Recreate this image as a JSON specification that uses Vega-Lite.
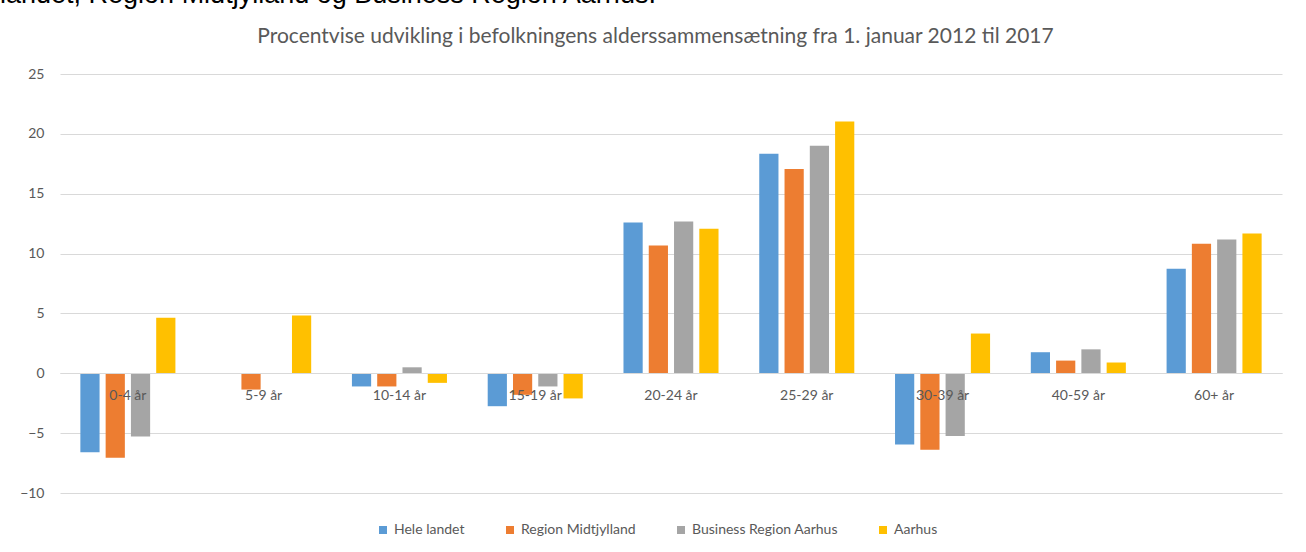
{
  "$schema": "https://vega.github.io/schema/vega-lite/v6.json",
  "autosize": {"type": "none"},
  "padding": {"left": 60, "top": 74, "right": 24, "bottom": 59},
  "width": 1222,
  "height": 419,
  "background": "white",
  "title": {
    "text": "landet, Region Midtjylland og Business Region Aarhus.",
    "font": "Liberation Sans",
    "fontSize": 27,
    "fontWeight": "normal",
    "color": "#000000",
    "anchor": "start",
    "frame": "group",
    "baseline": "alphabetic",
    "offset": 0,
    "dx": -60,
    "dy": 5
  },
  "data": {
    "values": [
      {"age": "0-4 år", "region": "Hele landet", "value": -6.6},
      {"age": "0-4 år", "region": "Region Midtjylland", "value": -7.05},
      {"age": "0-4 år", "region": "Business Region Aarhus", "value": -5.27},
      {"age": "0-4 år", "region": "Aarhus", "value": 4.63},
      {"age": "5-9 år", "region": "Hele landet", "value": 0},
      {"age": "5-9 år", "region": "Region Midtjylland", "value": -1.36},
      {"age": "5-9 år", "region": "Business Region Aarhus", "value": 0},
      {"age": "5-9 år", "region": "Aarhus", "value": 4.82},
      {"age": "10-14 år", "region": "Hele landet", "value": -1.1},
      {"age": "10-14 år", "region": "Region Midtjylland", "value": -1.1},
      {"age": "10-14 år", "region": "Business Region Aarhus", "value": 0.5},
      {"age": "10-14 år", "region": "Aarhus", "value": -0.8},
      {"age": "15-19 år", "region": "Hele landet", "value": -2.75},
      {"age": "15-19 år", "region": "Region Midtjylland", "value": -1.8},
      {"age": "15-19 år", "region": "Business Region Aarhus", "value": -1.1},
      {"age": "15-19 år", "region": "Aarhus", "value": -2.1},
      {"age": "20-24 år", "region": "Hele landet", "value": 12.6},
      {"age": "20-24 år", "region": "Region Midtjylland", "value": 10.68},
      {"age": "20-24 år", "region": "Business Region Aarhus", "value": 12.68},
      {"age": "20-24 år", "region": "Aarhus", "value": 12.07},
      {"age": "25-29 år", "region": "Hele landet", "value": 18.34},
      {"age": "25-29 år", "region": "Region Midtjylland", "value": 17.06},
      {"age": "25-29 år", "region": "Business Region Aarhus", "value": 19.0},
      {"age": "25-29 år", "region": "Aarhus", "value": 21.04},
      {"age": "30-39 år", "region": "Hele landet", "value": -5.94},
      {"age": "30-39 år", "region": "Region Midtjylland", "value": -6.38},
      {"age": "30-39 år", "region": "Business Region Aarhus", "value": -5.24},
      {"age": "30-39 år", "region": "Aarhus", "value": 3.32},
      {"age": "40-59 år", "region": "Hele landet", "value": 1.76},
      {"age": "40-59 år", "region": "Region Midtjylland", "value": 1.06},
      {"age": "40-59 år", "region": "Business Region Aarhus", "value": 2.0},
      {"age": "40-59 år", "region": "Aarhus", "value": 0.9},
      {"age": "60+ år", "region": "Hele landet", "value": 8.73},
      {"age": "60+ år", "region": "Region Midtjylland", "value": 10.82},
      {"age": "60+ år", "region": "Business Region Aarhus", "value": 11.18},
      {"age": "60+ år", "region": "Aarhus", "value": 11.67}
    ]
  },
  "mark": {"type": "bar"},
  "encoding": {
    "x": {
      "field": "age",
      "type": "nominal",
      "sort": null,
      "scale": {"paddingInner": 0.3, "paddingOuter": 0.15},
      "axis": {
        "title": null,
        "labelAngle": 0,
        "offset": -120,
        "ticks": false,
        "domainColor": "#d9d9d9",
        "labelColor": "#595959",
        "labelFont": "Lato",
        "labelFontSize": 14,
        "labelPadding": 15,
        "zindex": 1
      }
    },
    "xOffset": {
      "field": "region",
      "type": "nominal",
      "sort": ["Hele landet", "Region Midtjylland", "Business Region Aarhus", "Aarhus"],
      "scale": {"paddingInner": 0.24, "paddingOuter": 0}
    },
    "y": {
      "field": "value",
      "type": "quantitative",
      "scale": {"domain": [-10, 25], "nice": false, "zero": false},
      "axis": {
        "values": [-10, -5, 0, 5, 10, 15, 20, 25],
        "title": "Procentvise udvikling i befolkningens alderssammensætning fra 1. januar 2012 til 2017",
        "titleAngle": 0,
        "titleAlign": "center",
        "titleBaseline": "alphabetic",
        "titleX": 595,
        "titleY": -32,
        "titleFont": "Lato",
        "titleFontSize": 21,
        "titleFontWeight": "normal",
        "titleColor": "#595959",
        "domain": false,
        "ticks": false,
        "gridColor": "#d9d9d9",
        "labelColor": "#595959",
        "labelFont": "Lato",
        "labelFontSize": 14,
        "labelPadding": 16
      }
    },
    "color": {
      "field": "region",
      "type": "nominal",
      "sort": ["Hele landet", "Region Midtjylland", "Business Region Aarhus", "Aarhus"],
      "scale": {
        "domain": ["Hele landet", "Region Midtjylland", "Business Region Aarhus", "Aarhus"],
        "range": ["#5B9BD5", "#ED7D31", "#A5A5A5", "#FFC000"]
      },
      "legend": {
        "title": null,
        "orient": "none",
        "legendX": 316,
        "legendY": 449,
        "direction": "horizontal",
        "symbolType": "square",
        "symbolSize": 64,
        "symbolStrokeWidth": 0,
        "labelColor": "#595959",
        "labelFont": "Lato",
        "labelFontSize": 14,
        "columnPadding": 38
      }
    }
  },
  "config": {
    "view": {"stroke": null}
  }
}
